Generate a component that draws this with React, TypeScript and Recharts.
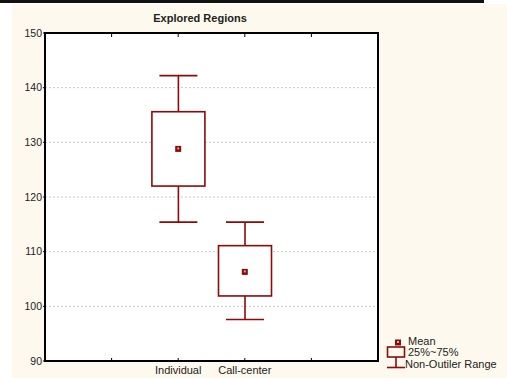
import {
  ComposedChart,
  Bar,
  Scatter,
  XAxis,
  YAxis,
  CartesianGrid,
  ReferenceArea,
} from "recharts";

const FONT = "'Liberation Sans', Arial, sans-serif";
const RED = "#8b0a0a";
const CREAM = "#fef9ee";

const groups = ["Individual", "Call-center"];
const groupPos = [2, 3];
const whiskerLow = [115.4, 97.6];
const q1 = [122, 101.9];
const means = [128.8, 106.3];
const q3 = [135.6, 111.1];
const whiskerHigh = [142.2, 115.4];
const yTicks = [90, 100, 110, 120, 130, 140, 150];
const xTicks = [1, 2, 3, 4];

const data = groups.map((name, i) => ({
  name,
  pos: groupPos[i],
  low: [whiskerLow[i], q1[i]],
  box: [q1[i], q3[i]],
  high: [q3[i], whiskerHigh[i]],
  mean: means[i],
}));

const labelFor = (v: number) => {
  const i = groupPos.indexOf(v);
  return i >= 0 ? groups[i] : "";
};

const BoxShape = (p: any) => {
  const top = Math.min(p.y, p.y + p.height);
  return (
    <rect x={p.x} y={top} width={p.width} height={Math.abs(p.height)} fill="#fff" stroke={RED} strokeWidth={1.6} />
  );
};

const whisker = (capAtTop: boolean) => (p: any) => {
  const top = Math.min(p.y, p.y + p.height);
  const bottom = top + Math.abs(p.height);
  const cx = p.x + p.width / 2;
  const capY = capAtTop ? top : bottom;
  return (
    <g stroke={RED} strokeWidth={1.6}>
      <line x1={cx} y1={top} x2={cx} y2={bottom} />
      <line x1={cx - 19} y1={capY} x2={cx + 19} y2={capY} />
    </g>
  );
};

const MeanShape = (p: any) => (
  <g>
    <rect x={p.cx - 3} y={p.cy - 3} width={6} height={6} fill={RED} />
    <rect x={p.cx - 1} y={p.cy - 1.5} width={2} height={2} fill="#d9a3a3" />
  </g>
);

export default function App() {
  return (
    <div style={{ position: "relative", width: 507, height: 378, background: "#fff", overflow: "hidden" }}>
      <style>{`body{margin:0}`}</style>
      <div style={{ position: "absolute", left: 0, top: 0, width: 484, height: 3, background: "#111" }} />
      <div style={{ position: "absolute", left: 12, top: 4, width: 495, height: 374, background: CREAM }} />
      <div style={{ position: "absolute", left: 45, top: 34, width: 333, height: 326, background: "#fff" }} />
      <div
        style={{
          position: "absolute",
          left: 140,
          top: 11,
          width: 120,
          textAlign: "center",
          fontFamily: FONT,
          fontSize: 11,
          fontWeight: "bold",
          color: "#222",
          lineHeight: "14px",
        }}
      >
        Explored Regions
      </div>
      <div style={{ position: "absolute", left: 0, top: 0 }}>
        <ComposedChart
          width={507}
          height={378}
          data={data}
          margin={{ top: 33, right: 129, left: 10, bottom: 0 }}
          barGap={-53}
        >
          <CartesianGrid vertical={false} stroke="#c8c8c8" strokeDasharray="2 2" />
          <XAxis
            xAxisId="bottomTicks"
            dataKey="pos"
            type="number"
            domain={[0, 5]}
            ticks={xTicks}
            tickFormatter={() => ""}
            height={1}
            mirror
            axisLine={false}
            tickLine={{ stroke: "#000" }}
            tickSize={3}
          />
          <XAxis
            dataKey="pos"
            type="number"
            domain={[0, 5]}
            ticks={xTicks}
            tickFormatter={labelFor}
            height={17}
            axisLine={false}
            tickLine={false}
            tickSize={0}
            tickMargin={5}
            tick={{ fill: "#222", fontSize: 11, fontFamily: FONT }}
          />
          <XAxis
            xAxisId="top"
            orientation="top"
            dataKey="pos"
            type="number"
            domain={[0, 5]}
            ticks={xTicks}
            tickFormatter={() => ""}
            height={1}
            mirror
            axisLine={false}
            tickLine={{ stroke: "#000" }}
            tickSize={4}
          />
          <YAxis
            type="number"
            domain={[90, 150]}
            ticks={yTicks}
            width={35}
            axisLine={{ stroke: "#000", strokeWidth: 2 }}
            tickLine={{ stroke: "#000" }}
            tickSize={2}
            tickMargin={1}
            tick={{ fill: "#222", fontSize: 10.5, fontFamily: FONT }}
          />
          <ReferenceArea x1={0} x2={5} y1={90} y2={150} fill="none" stroke="#000" strokeWidth={2} fillOpacity={0} />
          <Bar dataKey="low" barSize={53} shape={whisker(false)} isAnimationActive={false} />
          <Bar dataKey="high" barSize={53} shape={whisker(true)} isAnimationActive={false} />
          <Bar dataKey="box" barSize={53} shape={BoxShape} isAnimationActive={false} />
          <Scatter dataKey="mean" shape={MeanShape} isAnimationActive={false} />
        </ComposedChart>
      </div>
      <svg style={{ position: "absolute", left: 380, top: 330 }} width={127} height={48}>
        <rect x={15} y={9.5} width={6} height={6} fill={RED} />
        <rect x={17} y={11} width={2} height={2} fill="#d9a3a3" />
        <rect x={7.5} y={17} width={17} height={10} fill="none" stroke={RED} strokeWidth={1.6} />
        <line x1={16} y1={27} x2={16} y2={37.5} stroke={RED} strokeWidth={1.6} />
        <line x1={7} y1={37.5} x2={25} y2={37.5} stroke={RED} strokeWidth={1.6} />
        <g fontFamily={FONT} fontSize={11} fill="#222">
          <text x={28} y={15}>Mean</text>
          <text x={28} y={26}>25%~75%</text>
          <text x={25} y={38}>Non-Outiler Range</text>
        </g>
      </svg>
    </div>
  );
}
